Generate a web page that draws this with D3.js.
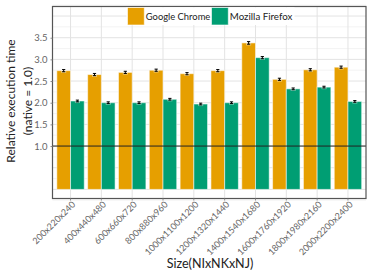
<!DOCTYPE html>
<html>
<head>
<meta charset="utf-8">
<script src="https://cdn.jsdelivr.net/npm/d3@7"></script>
<style>
  body { margin: 0; background: #fff; }
  text { font-family: Lato, "DejaVu Sans", sans-serif; }
</style>
</head>
<body>
<div id="chart"></div>
<script>
// data
let sizes = ["200x220x240", "400x440x480", "600x660x720", "800x880x960", "1000x1100x1200",
             "1200x1320x1440", "1400x1540x1680", "1600x1760x1920", "1800x1980x2160", "2000x2200x2400"];
let chromeValues = [2.74, 2.65, 2.70, 2.75, 2.67, 2.74, 3.38, 2.54, 2.76, 2.82];
let chromeErrors = [0.025, 0.025, 0.025, 0.025, 0.025, 0.025, 0.03, 0.025, 0.025, 0.025];
let firefoxValues = [2.04, 2.00, 2.00, 2.08, 1.97, 2.00, 3.04, 2.32, 2.36, 2.03];
let firefoxErrors = [0.02, 0.02, 0.02, 0.02, 0.02, 0.02, 0.025, 0.02, 0.02, 0.02];
let seriesNames = ["Google Chrome", "Mozilla Firefox"];
let yTicks = [1.0, 1.5, 2.0, 2.5, 3.0, 3.5];

function getConfig() {
  let width = 374;
  let height = 280;
  let margin = { top: 6.5, bottom: 81.5, left: 52.5, right: 8 };
  let bodyWidth = width - margin.left - margin.right;
  let bodyHeight = height - margin.top - margin.bottom;
  let container = d3.select("#chart").append("svg")
    .attr("width", width)
    .attr("height", height);
  return { width, height, margin, bodyWidth, bodyHeight, container };
}

function getScales(config) {
  let { margin, width, height } = config;
  let xScale = d3.scaleBand()
    .domain(sizes)
    .range([margin.left, width - margin.right])
    .paddingInner(0.11)
    .paddingOuter(0.14);
  let xSub = d3.scaleBand()
    .domain(seriesNames)
    .range([0, xScale.bandwidth()]);
  let yScale = d3.scaleLinear()
    .domain([-0.21, 4.22])
    .range([height - margin.bottom, margin.top]);
  let color = d3.scaleOrdinal()
    .domain(seriesNames)
    .range(["#E69F00", "#009E73"]);
  return { xScale, xSub, yScale, color };
}

function drawGrid(config, scales) {
  let { container, margin, width, height } = config;
  let { xScale, yScale } = scales;
  let x0 = margin.left, x1 = width - margin.right;

  // minor horizontal lines every 0.25
  let minor = d3.range(-0.25, 4.3, 0.25).filter(v => Math.abs(v * 2 - Math.round(v * 2)) > 0.01);
  container.append("g").selectAll("line").data(minor).enter().append("line")
    .attr("x1", x0).attr("x2", x1)
    .attr("y1", d => yScale(d)).attr("y2", d => yScale(d))
    .attr("stroke", "#f0f0f0").attr("stroke-width", 0.8);

  // major horizontal lines every 0.5
  let major = d3.range(0, 4.3, 0.5);
  container.append("g").selectAll("line").data(major).enter().append("line")
    .attr("x1", x0).attr("x2", x1)
    .attr("y1", d => yScale(d)).attr("y2", d => yScale(d))
    .attr("stroke", "#e3e3e3").attr("stroke-width", 1);

  // vertical lines at category centres
  container.append("g").selectAll("line").data(sizes).enter().append("line")
    .attr("x1", d => xScale(d) + xScale.bandwidth() / 2)
    .attr("x2", d => xScale(d) + xScale.bandwidth() / 2)
    .attr("y1", margin.top).attr("y2", height - margin.bottom)
    .attr("stroke", "#e3e3e3").attr("stroke-width", 1);
}

function drawBars(config, scales) {
  let { container } = config;
  let { xScale, xSub, yScale, color } = scales;

  let rows = sizes.map((s, i) => [
    { size: s, name: seriesNames[0], value: chromeValues[i], err: chromeErrors[i] },
    { size: s, name: seriesNames[1], value: firefoxValues[i], err: firefoxErrors[i] }
  ]).flat();

  container.append("g").selectAll("rect").data(rows).enter().append("rect")
    .attr("x", d => xScale(d.size) + xSub(d.name))
    .attr("width", xSub.bandwidth())
    .attr("y", d => yScale(d.value))
    .attr("height", d => yScale(0) - yScale(d.value))
    .attr("fill", d => color(d.name))
    .attr("stroke", "rgba(255,255,255,0.55)")
    .attr("stroke-width", 1);

  // error bars
  let eb = container.append("g").selectAll("g").data(rows).enter().append("g")
    .attr("transform", d => "translate(" + (xScale(d.size) + xSub(d.name) + xSub.bandwidth() / 2) + ",0)");
  eb.append("rect")
    .attr("x", -2.5).attr("width", 5)
    .attr("y", d => yScale(d.value + d.err) - 1.2)
    .attr("height", d => yScale(d.value - d.err) - yScale(d.value + d.err) + 2.4)
    .attr("fill", "rgba(255,255,255,0.45)");
  eb.append("line")
    .attr("y1", d => yScale(d.value + d.err)).attr("y2", d => yScale(d.value - d.err))
    .attr("stroke", "#000").attr("stroke-width", 1);
  eb.selectAll(".cap").data(d => [d.value + d.err, d.value - d.err]).enter().append("line")
    .attr("x1", -1.6).attr("x2", 1.6)
    .attr("y1", d => yScale(d)).attr("y2", d => yScale(d))
    .attr("stroke", "#000").attr("stroke-width", 1);
}

function drawAxes(config, scales) {
  let { container, margin, width, height } = config;
  let { xScale, yScale } = scales;
  let x0 = margin.left, x1 = width - margin.right;
  let yBottom = height - margin.bottom;

  // reference line at native = 1.0
  container.append("line")
    .attr("x1", x0).attr("x2", x1)
    .attr("y1", yScale(1)).attr("y2", yScale(1))
    .attr("stroke", "#222").attr("stroke-width", 1);

  // frame
  container.append("rect")
    .attr("x", x0).attr("y", margin.top)
    .attr("width", x1 - x0).attr("height", yBottom - margin.top)
    .attr("fill", "none").attr("stroke", "#555").attr("stroke-width", 1.2);

  // y axis
  let yAxis = container.append("g")
    .attr("transform", "translate(" + x0 + ",0)")
    .call(d3.axisLeft(yScale).tickValues(yTicks).tickFormat(d3.format(".1f")).tickSize(2).tickPadding(3));
  yAxis.select(".domain").remove();
  yAxis.selectAll("line").attr("stroke", "#888");
  yAxis.selectAll("text").attr("fill", "#666").style("font-size", "9.5px")
    .style("font-family", "Lato, sans-serif");

  // x axis
  let xAxis = container.append("g")
    .attr("transform", "translate(0," + yBottom + ")")
    .call(d3.axisBottom(xScale).tickSize(2).tickPadding(2));
  xAxis.select(".domain").remove();
  xAxis.selectAll("line").attr("stroke", "#888");
  xAxis.selectAll("text")
    .attr("fill", "#666")
    .style("font-size", "9px")
    .style("font-family", "Lato, sans-serif")
    .style("text-anchor", "end")
    .attr("dx", "-0.1em").attr("dy", "0.5em")
    .attr("transform", "rotate(-45)");

  // axis titles
  container.append("text")
    .attr("x", 210).attr("y", 268)
    .attr("text-anchor", "middle")
    .attr("fill", "#222")
    .style("font-size", "12.5px")
    .text("Size(NIxNKxNJ)");

  let yt = container.append("text")
    .attr("transform", "translate(15,101) rotate(-90)")
    .attr("text-anchor", "middle")
    .attr("fill", "#222")
    .style("font-size", "12px");
  yt.append("tspan").attr("x", 0).attr("y", 0).text("Relative execution time");
  yt.append("tspan").attr("x", 0).attr("y", 16.5).text("(native = 1.0)");
}

function drawLegend(config, scales) {
  let { container } = config;
  let { color } = scales;
  let items = [{ name: seriesNames[0], x: 127.5 }, { name: seriesNames[1], x: 211.5 }];

  container.append("rect")
    .attr("x", 126.5).attr("y", 7.3).attr("width", 168).attr("height", 17.7)
    .attr("fill", "#fff");

  let g = container.append("g").selectAll("g").data(items).enter().append("g")
    .attr("transform", d => "translate(" + d.x + ",7.5)");
  g.append("rect")
    .attr("width", 16.8).attr("height", 17.5)
    .attr("fill", d => color(d.name))
    .attr("stroke", "rgba(255,255,255,0.6)");
  g.append("text")
    .attr("x", 18.3).attr("y", 12.3)
    .attr("fill", "#222")
    .style("font-size", "10px")
    .attr("textLength", d => d.name === seriesNames[0] ? 64.5 : 62.5)
    .attr("lengthAdjust", "spacingAndGlyphs")
    .text(d => d.name);
}

let config = getConfig();
let scales = getScales(config);
drawGrid(config, scales);
drawBars(config, scales);
drawAxes(config, scales);
drawLegend(config, scales);
</script>
</body>
</html>
